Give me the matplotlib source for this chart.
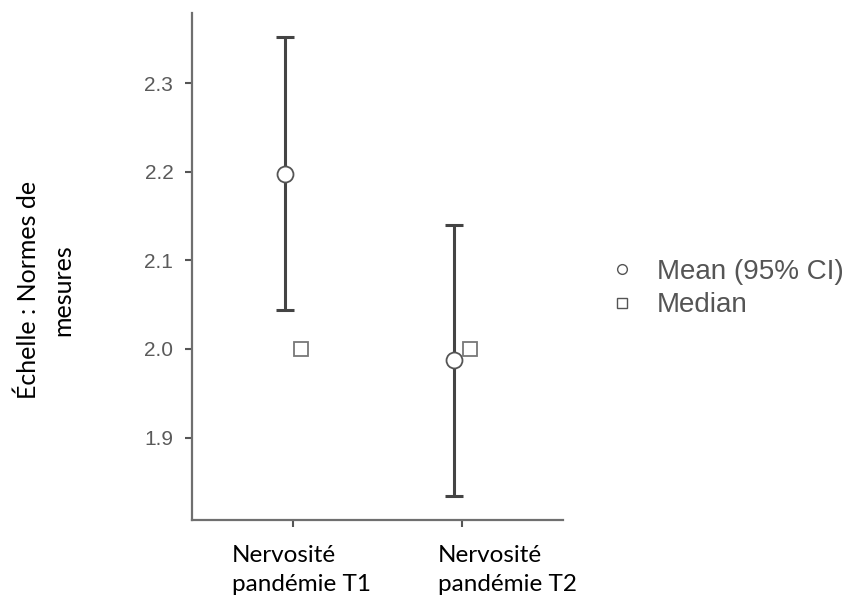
import matplotlib.pyplot as plt
from matplotlib.lines import Line2D

# values
categories = ['Nervosité\npandémie T1', 'Nervosité\npandémie T2']
means = [2.197, 1.987]
ci_low = [2.044, 1.834]
ci_high = [2.352, 2.140]
medians = [2.0, 2.0]
yticks = [1.9, 2.0, 2.1, 2.2, 2.3]
legend_labels = ['Mean (95% CI)', 'Median']
ylabel = 'Échelle : Normes de\nmesures'

# hand placed category labels (pixel shift of left edge from the tick)
label_shift = [-61, -24]

fig = plt.figure(figsize=(8.58, 5.99), dpi=100)
ax = fig.add_axes([0.2238, 0.1319, 0.4324, 0.8464])

x = list(range(len(categories)))
err_lo = [m - lo for m, lo in zip(means, ci_low)]
err_hi = [hi - m for m, hi in zip(means, ci_high)]

ax.errorbar([i - 0.05 for i in x], means, yerr=[err_lo, err_hi], fmt='none',
            ecolor='#444444', elinewidth=2.2, capsize=6.2, capthick=2.2, zorder=2)
ax.plot([i - 0.05 for i in x], means, 'o', ms=11.5, mfc='white', mec='#555555',
        mew=1.3, zorder=3)
ax.plot([i + 0.05 for i in x], medians, 's', ms=9.5, mfc='white', mec='#777777',
        mew=1.3, zorder=3)

ax.set_xlim(-0.598, 1.598)
ax.set_ylim(1.807, 2.379)
ax.set_yticks(yticks)
ax.set_yticklabels([f'{t:.1f}' for t in yticks])
ax.set_xticks(x)
ax.set_xticklabels([])

for s in ['top', 'right']:
    ax.spines[s].set_visible(False)
for s in ['left', 'bottom']:
    ax.spines[s].set_color('#6f6f6f')
    ax.spines[s].set_linewidth(1.6)

ax.tick_params(axis='both', direction='out', length=5, width=1.5, color='#555555',
               labelcolor='#5a5a5a', pad=8.5)
for lab in ax.get_yticklabels():
    lab.set_fontfamily('Liberation Sans')
    lab.set_fontsize(15)

for i, cat in enumerate(categories):
    ax.annotate(cat, xy=(i, 0), xycoords=ax.get_xaxis_transform(),
                xytext=(label_shift[i] * 0.72, -18), textcoords='offset points',
                ha='left', va='top', multialignment='left', family='Lato',
                fontsize=17.5, color='black', linespacing=1.5)

fig.text(45 / 858, 1 - 290 / 599, ylabel, rotation=90, ha='center', va='center',
         multialignment='center', family='Lato', fontsize=18, color='black',
         linespacing=1.6)

handles = [
    Line2D([], [], ls='none', marker='o', ms=7, mfc='white', mec='#555555', mew=1.0),
    Line2D([], [], ls='none', marker='s', ms=7, mfc='white', mec='#555555', mew=1.0),
]
fig.legend(handles, legend_labels, loc='center left',
           bbox_to_anchor=(608 / 858, 1 - 288.5 / 599), frameon=False,
           prop={'family': 'Liberation Sans', 'size': 20}, labelcolor='#555555',
           handlelength=1.0, handletextpad=0.75, labelspacing=0.28,
           borderpad=0, borderaxespad=0)

fig.savefig('out.png', dpi=100)
